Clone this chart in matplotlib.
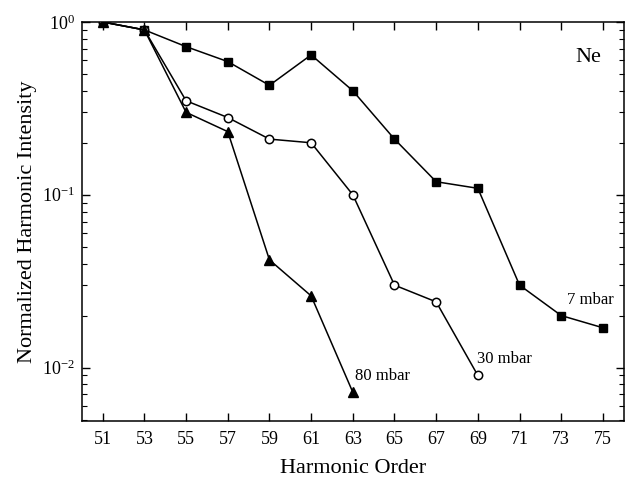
import matplotlib
matplotlib.use('Agg')
import matplotlib.pyplot as plt
from matplotlib.ticker import LogLocator, FixedLocator, NullFormatter

plt.rcParams['font.family'] = 'Liberation Serif'
plt.rcParams['mathtext.fontset'] = 'custom'
plt.rcParams['mathtext.rm'] = 'Liberation Serif'
plt.rcParams['mathtext.it'] = 'Liberation Serif:italic'
plt.rcParams['axes.unicode_minus'] = False

# harmonic orders
orders_7 = [51, 53, 55, 57, 59, 61, 63, 65, 67, 69, 71, 73, 75]
orders_30 = [51, 53, 55, 57, 59, 61, 63, 65, 67, 69]
orders_80 = [51, 53, 55, 57, 59, 61, 63]

# normalized intensities
intensity_7 = [1.0, 0.90, 0.72, 0.59, 0.43, 0.645, 0.40, 0.21, 0.119, 0.109, 0.030, 0.020, 0.017]
intensity_30 = [1.0, 0.90, 0.35, 0.28, 0.21, 0.20, 0.10, 0.030, 0.024, 0.0090]
intensity_80 = [1.0, 0.90, 0.30, 0.232, 0.042, 0.026, 0.0072]

x_ticks = list(range(51, 76, 2))

fig = plt.figure(figsize=(6.25, 4.78), dpi=100)
ax = fig.add_axes([0.131, 0.119, 0.867, 0.835])

ax.plot(orders_7, intensity_7, color='black', lw=1.1, marker='s', ms=6.3,
        markerfacecolor='black', zorder=3)
ax.plot(orders_30, intensity_30, color='black', lw=1.1, marker='o', ms=6,
        markerfacecolor='white', markeredgewidth=1.1, zorder=3)
ax.plot(orders_80, intensity_80, color='black', lw=1.1, marker='^', ms=7,
        markerfacecolor='black', zorder=3)

ax.set_yscale('log')
ax.set_xlim(50, 76)
ax.set_ylim(0.0049, 1.0)
ax.xaxis.set_major_locator(FixedLocator(x_ticks))
ax.yaxis.set_major_locator(LogLocator(base=10, numticks=10))
ax.yaxis.set_minor_locator(LogLocator(base=10, subs=range(2, 10), numticks=10))
ax.yaxis.set_minor_formatter(NullFormatter())

ax.tick_params(axis='both', which='both', direction='in', top=True, right=True,
               labelsize=13)
ax.tick_params(axis='both', which='major', length=6, width=1)
ax.tick_params(axis='y', which='minor', length=3.5, width=0.8)
ax.tick_params(axis='x', pad=7)
ax.tick_params(axis='y', pad=5)
for s in ax.spines.values():
    s.set_linewidth(1.1)

ax.set_xlabel('Harmonic Order', fontsize=16, labelpad=8)
ax.set_ylabel('Normalized Harmonic Intensity', fontsize=16, labelpad=4)

ax.text(73.3, 0.0245, '7 mbar', fontsize=12, va='center', ha='left')
ax.text(68.95, 0.0112, '30 mbar', fontsize=12, va='center', ha='left')
ax.text(63.1, 0.0089, '80 mbar', fontsize=12, va='center', ha='left')
ax.text(0.959, 0.912, 'Ne', fontsize=16, transform=ax.transAxes, ha='right', va='center')

fig.savefig('out.png', dpi=100)
